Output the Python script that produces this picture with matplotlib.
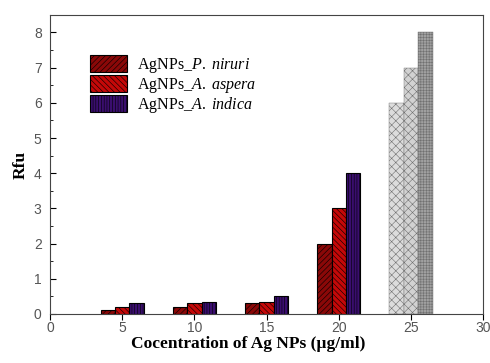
import numpy as np
import matplotlib.pyplot as plt

# datos
conc = np.array([5, 10, 15, 20, 25])
niruri = [0.1, 0.2, 0.3, 2.0, 6.0]
aspera = [0.2, 0.3, 0.35, 3.0, 7.0]
indica = [0.3, 0.35, 0.5, 4.0, 8.0]
etiquetas = ['AgNPs_$\\mathit{P.\\ niruri}$',
             'AgNPs_$\\mathit{A.\\ aspera}$',
             'AgNPs_$\\mathit{A.\\ indica}$']

plt.rcParams['mathtext.fontset'] = 'custom'
plt.rcParams['mathtext.it'] = 'Liberation Serif:italic'
plt.rcParams['mathtext.rm'] = 'Liberation Serif'
plt.rcParams['hatch.linewidth'] = 0.4

fig = plt.figure(figsize=(4.9, 3.63), dpi=100)
ax = fig.add_axes([0.102, 0.135, 0.884, 0.824])

series = [niruri, aspera, indica]
colores = ['#8a0808', '#c40808', '#3a0e6e']
hatches = ['//////', '\\\\\\\\\\\\', '||||||']
grises = ['#dcdcdc', '#d2d2d2', '#a0a0a0']
hatch_gris = ['xxxx', 'xxxx', '++++++']
offs = [-1, 0, 1]

for i, vals in enumerate(series):
    # grupos rojos/azules
    ax.bar(conc[:4] + offs[i], vals[:4], width=1.0, color=colores[i],
           edgecolor='black', linewidth=0.8, hatch=hatches[i], label=etiquetas[i])
    # grupo gris a 25
    ax.bar(conc[4:] + offs[i], vals[4:], width=1.0, color=grises[i],
           edgecolor='#707070', linewidth=0.3, hatch=hatch_gris[i])

ax.set_xlim(0, 30)
ax.set_ylim(0, 8.5)
ax.set_xticks(np.arange(0, 31, 5))
ax.set_yticks(np.arange(0, 9, 1))
ax.set_yticks(np.arange(0, 8.5, 0.5), minor=True)
ax.tick_params(axis='y', which='both', direction='in', labelsize=10, labelcolor='#555555', pad=6)
ax.tick_params(axis='y', which='major', length=4)
ax.tick_params(axis='y', which='minor', length=2)
ax.tick_params(axis='x', direction='out', labelsize=10, labelcolor='#555555', length=4, pad=1)
for lab in ax.get_xticklabels() + ax.get_yticklabels():
    lab.set_family('Liberation Sans')
for s in ax.spines.values():
    s.set_color('#444444')

ax.set_xlabel('Cocentration of Ag NPs (\u00b5g/ml)', family='Liberation Serif',
              fontweight='bold', fontsize=12.5, labelpad=1)
ax.xaxis.set_label_coords(0.457, -0.075)
ax.set_ylabel('Rfu', family='Liberation Serif', fontweight='bold', fontsize=12.5, labelpad=4)

ax.legend(loc='upper left', bbox_to_anchor=(0.06, 0.915), frameon=False,
          prop={'family': 'Liberation Serif', 'size': 11.5},
          handlelength=2.3, handleheight=1.3, handletextpad=0.6, labelspacing=0.0)

fig.savefig('out.png', dpi=100)
